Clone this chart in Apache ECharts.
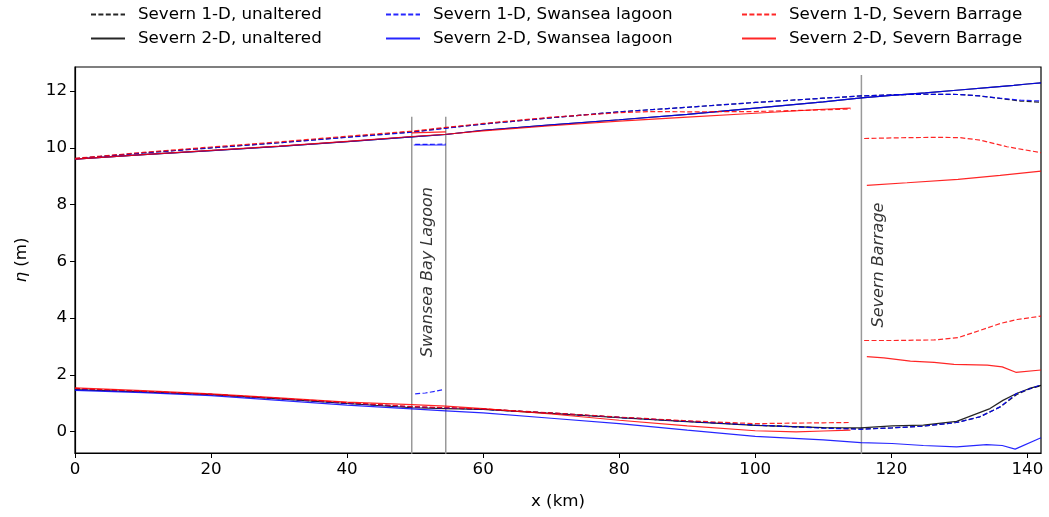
<!DOCTYPE html>
<html>
<head>
<meta charset="utf-8">
<script src="https://cdn.jsdelivr.net/npm/echarts@6/dist/echarts.min.js"></script>
<style>html,body{margin:0;padding:0;background:#fff}#c{width:1049px;height:517px}</style>
</head>
<body>
<div id="c"></div>
<script>
// ---- data (x in km, eta in m) ----
const xTicks = [0, 20, 40, 60, 80, 100, 120, 140];
const yTicks = [0, 2, 4, 6, 8, 10, 12];

const hw1dUnaltered = [[0,9.62],[10,9.82],[20,10.0],[30,10.18],[40,10.38],[49.5,10.56],[54.5,10.7],[60,10.84],[70,11.06],[80,11.27],[90,11.43],[100,11.6],[110,11.75],[115.6,11.83],[120,11.87],[125,11.89],[130,11.88],[133,11.83],[136,11.74],[139,11.65],[142,11.61]];
const lw1dUnaltered = [[0,1.5],[10,1.41],[20,1.31],[30,1.16],[40,1.0],[49.5,0.87],[54.5,0.83],[60,0.79],[70,0.65],[80,0.5],[90,0.36],[100,0.23],[110,0.13],[115.6,0.09],[120.1,0.13],[124.7,0.19],[129.6,0.32],[133,0.52],[136,0.87],[138.4,1.3],[140.3,1.5],[142,1.62]];

const hw2dUnaltered = [[0,9.6],[10,9.76],[20,9.9],[30,10.05],[40,10.22],[49.5,10.39],[54.5,10.47],[60,10.62],[70,10.81],[80,10.99],[90,11.18],[100,11.4],[110,11.62],[115.6,11.76],[120,11.85],[125,11.94],[130,12.04],[135,12.14],[138,12.2],[140,12.25],[142,12.29]];
const lw2dUnaltered = [[0,1.48],[10,1.4],[20,1.3],[30,1.15],[40,0.99],[49.5,0.84],[54.5,0.81],[60,0.78],[70,0.64],[80,0.49],[90,0.35],[100,0.22],[110,0.14],[115.5,0.13],[120.1,0.2],[124.7,0.23],[129.6,0.36],[132,0.58],[134.5,0.81],[136.4,1.1],[138.4,1.34],[140.3,1.52],[142,1.63]];

const hw1dLagoon = [[0,9.62],[10,9.82],[20,10.0],[30,10.18],[40,10.37],[49.5,10.55],[54.5,10.69],[60,10.84],[70,11.06],[80,11.27],[90,11.43],[100,11.6],[110,11.75],[115.6,11.83],[120,11.87],[125,11.89],[130,11.88],[133,11.83],[136,11.75],[139,11.68],[142,11.65]];
const lw1dLagoon = [[0,1.5],[10,1.41],[20,1.31],[30,1.16],[40,1.0],[49.5,0.87],[54.5,0.83],[60,0.79],[70,0.65],[80,0.5],[90,0.36],[100,0.23],[110,0.12],[115.5,0.08],[120.1,0.13],[124.7,0.19],[129.6,0.32],[133,0.52],[136,0.87],[138.4,1.34],[142,1.65]];
const hw1dLagoonInside = [[50,10.12],[54.5,10.13]];
const lw1dLagoonInside = [[50,1.33],[51.5,1.36],[53,1.42],[54.2,1.48]];

const hw2dLagoon = [[0,9.6],[10,9.76],[20,9.9],[30,10.05],[40,10.22],[49.5,10.39],[54.5,10.47],[60,10.62],[70,10.81],[80,10.99],[90,11.18],[100,11.4],[110,11.62],[115.6,11.76],[120,11.85],[125,11.94],[130,12.04],[135,12.14],[138,12.2],[140,12.25],[142,12.29]];
const lw2dLagoon = [[0,1.45],[10,1.37],[20,1.27],[30,1.1],[40,0.93],[49.5,0.8],[54.5,0.73],[60,0.66],[70,0.47],[80,0.28],[90,0.05],[100,-0.17],[110,-0.29],[115.5,-0.39],[120.1,-0.42],[124.7,-0.49],[129.6,-0.54],[134,-0.46],[136.3,-0.49],[138.2,-0.62],[142,-0.22]];
const hw2dLagoonInside = [[49.8,10.1],[54.5,10.1]];

const hw1dBarrage = [[0,9.63],[10,9.84],[20,10.03],[30,10.21],[40,10.41],[49.5,10.59],[54.5,10.72],[60,10.86],[70,11.08],[80,11.24],[85,11.28],[90,11.27],[100,11.28],[110,11.34],[114,11.37]];
const lw1dBarrage = [[0,1.52],[10,1.42],[20,1.31],[30,1.17],[40,1.02],[49.5,0.88],[54.5,0.84],[60,0.8],[70,0.66],[80,0.51],[90,0.38],[100,0.28],[110,0.31],[114,0.32]];
const hw1dBarrageBasin = [[116,10.33],[122.3,10.36],[127,10.37],[130.1,10.36],[133.1,10.27],[137,10.04],[142,9.83]];
const lw1dBarrageBasin = [[116,3.21],[120.1,3.21],[126.3,3.23],[129.8,3.31],[133.1,3.57],[136,3.81],[138.5,3.95],[142,4.07]];

const hw2dBarrage = [[0,9.6],[10,9.76],[20,9.91],[30,10.06],[40,10.23],[49.5,10.4],[54.5,10.48],[60,10.6],[70,10.78],[80,10.94],[90,11.08],[100,11.22],[110,11.36],[114,11.4]];
const hw2dBarrageLagoonReach = [[49.5,10.53],[54.5,10.56]];
const lw2dBarrage = [[0,1.54],[10,1.44],[20,1.33],[30,1.19],[40,1.04],[49.5,0.95],[54.5,0.9],[60,0.81],[70,0.62],[80,0.4],[90,0.2],[100,0.03],[106,-0.01],[110,0.02],[114,0.05]];
const hw2dBarrageBasin = [[116.4,8.68],[122.3,8.77],[129.8,8.89],[136,9.03],[142,9.18]];
const lw2dBarrageBasin = [[116.4,2.64],[118.9,2.6],[122.8,2.48],[126.3,2.44],[129.2,2.37],[134.1,2.34],[136.3,2.28],[138.3,2.09],[142,2.17]];

const structureX = [49.5, 54.5, 115.6];
const structureTop = [11.1, 11.1, 12.57];
const structureLabels = [['Swansea Bay Lagoon', 51.9, 5.62], ['Severn Barrage', 118.2, 5.87]];

const names = ['Severn 1-D, unaltered','Severn 2-D, unaltered','Severn 1-D, Swansea lagoon','Severn 2-D, Swansea lagoon','Severn 1-D, Severn Barrage','Severn 2-D, Severn Barrage'];

// ---- build ----
function join(...segs){ const out=[]; segs.forEach((s,i)=>{ if(i) out.push(null); s.forEach(p=>out.push(p)); }); return out; }
const FONT = 'DejaVu Sans';
const dash = [5, 2.4];
function lineSeries(name, color, dashed, data){
  return { name, type:'line', data, symbol:'none', showSymbol:false, connectNulls:false, silent:true, animation:false,
    lineStyle:{ color, width:1.2, type: dashed?dash:'solid', opacity:0.85 }, itemStyle:{color, opacity:0.85}, clip:true };
}
const series = [
  lineSeries(names[0], '#000000', true, join(hw1dUnaltered, lw1dUnaltered)),
  lineSeries(names[1], '#000000', false, join(hw2dUnaltered, lw2dUnaltered)),
  lineSeries(names[2], '#0000ff', true, join(hw1dLagoon, lw1dLagoon, hw1dLagoonInside, lw1dLagoonInside)),
  lineSeries(names[3], '#0000ff', false, join(hw2dLagoon, lw2dLagoon, hw2dLagoonInside)),
  lineSeries(names[4], '#ff0000', true, join(hw1dBarrage, lw1dBarrage, hw1dBarrageBasin, lw1dBarrageBasin)),
  lineSeries(names[5], '#ff0000', false, join(hw2dBarrage, hw2dBarrageLagoonReach, lw2dBarrage, hw2dBarrageBasin, lw2dBarrageBasin)),
];
// structure lines
const structData = join(...structureX.map((x,i)=>[[x,-2],[x,structureTop[i]]]));
series.unshift({ name:'structures', type:'line', data:structData, symbol:'none', silent:true, animation:false, connectNulls:false,
  lineStyle:{color:'#999999', width:1.5}, clip:true, z:1 });
// structure labels
series.push({ name:'labels', type:'scatter', symbolSize:0, silent:true, animation:false,
  data: structureLabels.map(l=>({value:[l[1],l[2]], name:l[0]})),
  label:{ show:true, position:'inside', rotate:90, formatter:p=>p.name, fontFamily:FONT, fontStyle:'italic', fontSize:16, color:'#000' } });

const colLeft = [85, 380, 736];
const rowTop = [1, 25];
const legends = names.map((n,i)=>({
  data:[n], left: colLeft[Math.floor(i/2)], top: rowTop[i%2], orient:'horizontal',
  itemWidth:34, itemHeight:12, selectedMode:false,
  itemStyle:{ opacity:0, color:'transparent', borderWidth:0 },
  textStyle:{ fontFamily:FONT, fontSize:16.7, color:'#000', padding:[0,0,0,8] }
}));

const chart = echarts.init(document.getElementById('c'), null, {renderer:'canvas'});
chart.setOption({
  animation:false,
  backgroundColor:'#fff',
  legend: legends,
  grid:{ left:75, top:67, width:966, height:386, show:true, borderColor:'#000', borderWidth:1.2, containLabel:false },
  xAxis:{ type:'value', min:0, max:142, name:'x (km)', nameLocation:'middle', nameGap:40,
    nameTextStyle:{ fontFamily:FONT, fontSize:16.7, color:'#000' },
    axisLine:{ show:true, lineStyle:{color:'#000', width:1.2}, onZero:false },
    axisTick:{ show:true, inside:false, length:5, lineStyle:{color:'#000'}, customValues:xTicks },
    axisLabel:{ fontFamily:FONT, fontSize:16.7, color:'#000', margin:8, customValues:xTicks },
    splitLine:{show:false} },
  yAxis:{ type:'value', min:-0.755, max:12.85, name:'{i|η} (m)', nameLocation:'middle', nameGap:45,
    nameTextStyle:{ fontFamily:FONT, fontSize:16.7, color:'#000', rich:{ i:{ fontStyle:'italic', fontFamily:FONT, fontSize:16.7 } } },
    axisLine:{ show:true, lineStyle:{color:'#000', width:1.2}, onZero:false },
    axisTick:{ show:true, inside:false, length:5, lineStyle:{color:'#000'}, customValues:yTicks },
    axisLabel:{ fontFamily:FONT, fontSize:16.7, color:'#000', margin:8, customValues:yTicks },
    splitLine:{show:false} },
  series
});
</script>
</body>
</html>
